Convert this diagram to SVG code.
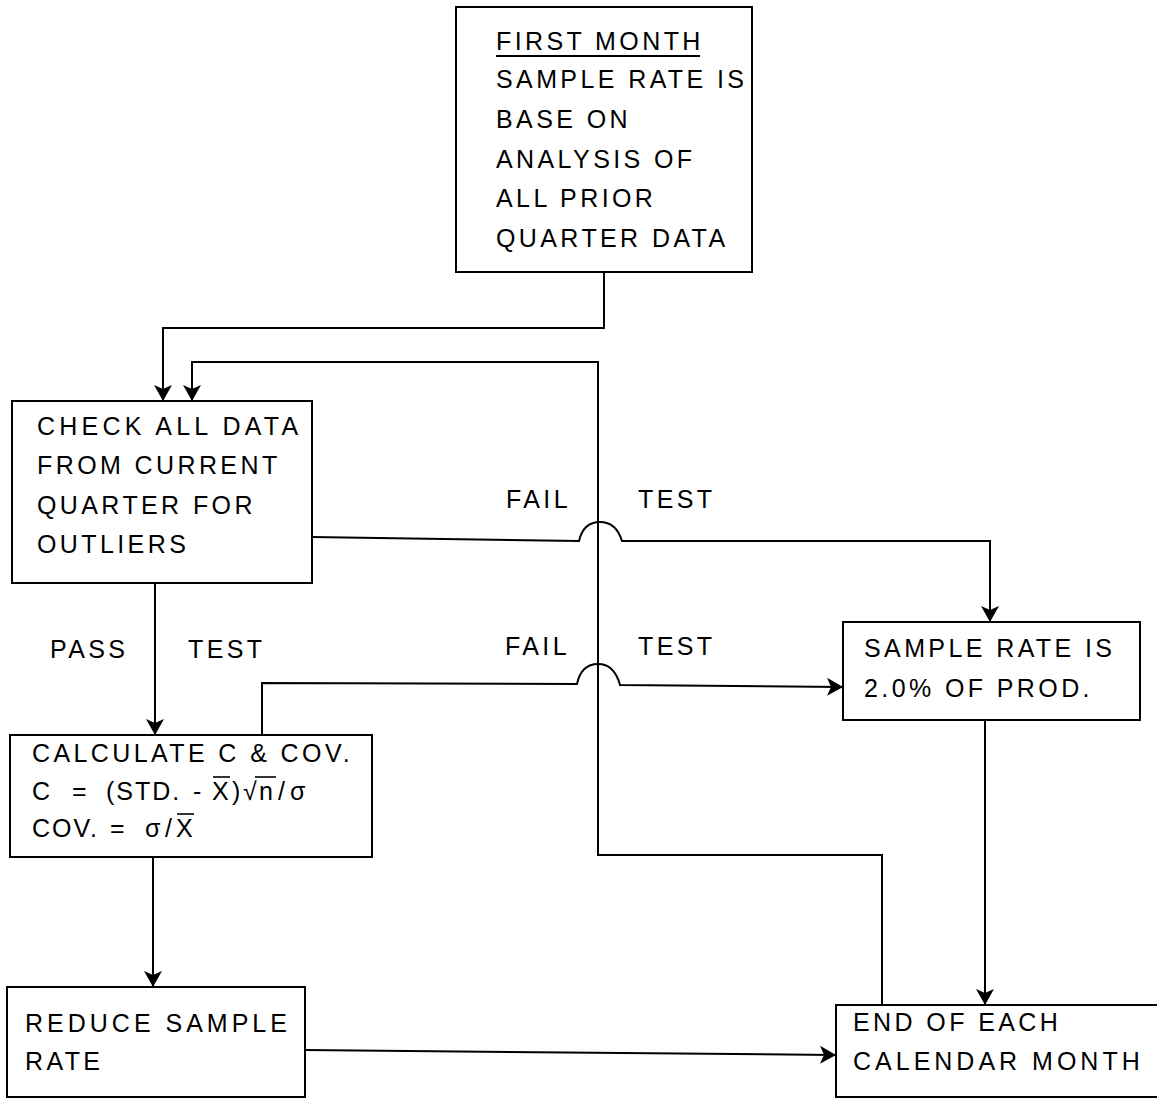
<svg xmlns="http://www.w3.org/2000/svg" width="1157" height="1101" viewBox="0 0 1157 1101">
<style>
  .box { fill: #fff; stroke: #000; stroke-width: 2; }
  .t { font-family: "Liberation Sans", Arial, sans-serif; font-size: 25px; letter-spacing: 3.4px; fill: #000; }
  .c { fill: none; stroke: #000; stroke-width: 2; }
  .bar { stroke: #000; stroke-width: 1.6; }
</style>
<defs>
  <marker id="ah" markerUnits="userSpaceOnUse" markerWidth="16" markerHeight="20" refX="15" refY="10" orient="auto" viewBox="0 0 16 20">
    <path d="M0,1 L16,10 L0,19 L4,10 Z" fill="#000"/>
  </marker>
</defs>
<rect width="1157" height="1101" fill="#fff"/>

<g id="connectors">
  <path class="c" d="M604,272 V328 H163 V400" marker-end="url(#ah)"/>
  <path class="c" d="M882,1004 V855 H598 V362 H192 V400" marker-end="url(#ah)"/>
  <path class="c" d="M312,537 L579,541 C582,528 590,522 600,522 C610,522 618,528 622,541 L990,541 V621" marker-end="url(#ah)"/>
  <path class="c" d="M262,735 V683 L577,684 C580,670 588,664 598,664 C608,664 616,670 620,685 L842,687" marker-end="url(#ah)"/>
  <path class="c" d="M155,583 V734" marker-end="url(#ah)"/>
  <path class="c" d="M153,857 V986" marker-end="url(#ah)"/>
  <path class="c" d="M305,1050 L835,1055" marker-end="url(#ah)"/>
  <path class="c" d="M985,720 V1004" marker-end="url(#ah)"/>
  <text class="t" x="506" y="508">FAIL</text>
  <text class="t" x="638" y="508">TEST</text>
  <text class="t" x="505" y="655">FAIL</text>
  <text class="t" x="638" y="655">TEST</text>
  <text class="t" x="50" y="658">PASS</text>
  <text class="t" x="188" y="658">TEST</text>
</g>

<g id="first-month">
  <rect class="box" x="456" y="7" width="296" height="265"/>
  <text class="t" x="496" y="50">FIRST MONTH</text>
  <line x1="496" y1="56" x2="700" y2="56" stroke="#000" stroke-width="2"/>
  <text class="t" x="496" y="88">SAMPLE RATE IS</text>
  <text class="t" x="496" y="128">BASE ON</text>
  <text class="t" x="496" y="168">ANALYSIS OF</text>
  <text class="t" x="496" y="207">ALL PRIOR</text>
  <text class="t" x="496" y="247">QUARTER DATA</text>
</g>

<g id="check">
  <rect class="box" x="12" y="401" width="300" height="182"/>
  <text class="t" x="37" y="435" style="letter-spacing:4.2px">CHECK ALL DATA</text>
  <text class="t" x="37" y="474">FROM CURRENT</text>
  <text class="t" x="37" y="514">QUARTER FOR</text>
  <text class="t" x="37" y="553">OUTLIERS</text>
</g>

<g id="sample-rate">
  <rect class="box" x="843" y="622" width="297" height="98"/>
  <text class="t" x="864" y="657">SAMPLE RATE IS</text>
  <text class="t" x="864" y="697">2.0% OF PROD.</text>
</g>

<g id="calculate">
  <rect class="box" x="10" y="735" width="362" height="122"/>
  <text class="t" x="32" y="762">CALCULATE C &amp; COV.</text>
  <text class="t" y="800"><tspan x="32">C</tspan><tspan x="72">=</tspan><tspan x="106" style="letter-spacing:2px">(STD.</tspan><tspan x="193">-</tspan><tspan x="212">X</tspan><tspan x="232">)</tspan><tspan x="243">√</tspan><tspan x="259">n</tspan><tspan x="278">/</tspan><tspan x="290">σ</tspan></text>
  <line class="bar" x1="213" y1="777" x2="230" y2="777"/>
  <line class="bar" x1="255" y1="777" x2="276" y2="777"/>
  <text class="t" y="837"><tspan x="32" style="letter-spacing:2px">COV.</tspan><tspan x="110">=</tspan><tspan x="145">σ</tspan><tspan x="165">/</tspan><tspan x="176">X</tspan></text>
  <line class="bar" x1="177" y1="814" x2="194" y2="814"/>
</g>

<g id="reduce">
  <rect class="box" x="7" y="987" width="298" height="110"/>
  <text class="t" x="25" y="1032" style="letter-spacing:4px">REDUCE SAMPLE</text>
  <text class="t" x="25" y="1070">RATE</text>
</g>

<g id="end-month">
  <rect class="box" x="836" y="1005" width="330" height="92"/>
  <text class="t" x="853" y="1031">END OF EACH</text>
  <text class="t" x="853" y="1070" style="letter-spacing:4px">CALENDAR MONTH</text>
</g>
</svg>
